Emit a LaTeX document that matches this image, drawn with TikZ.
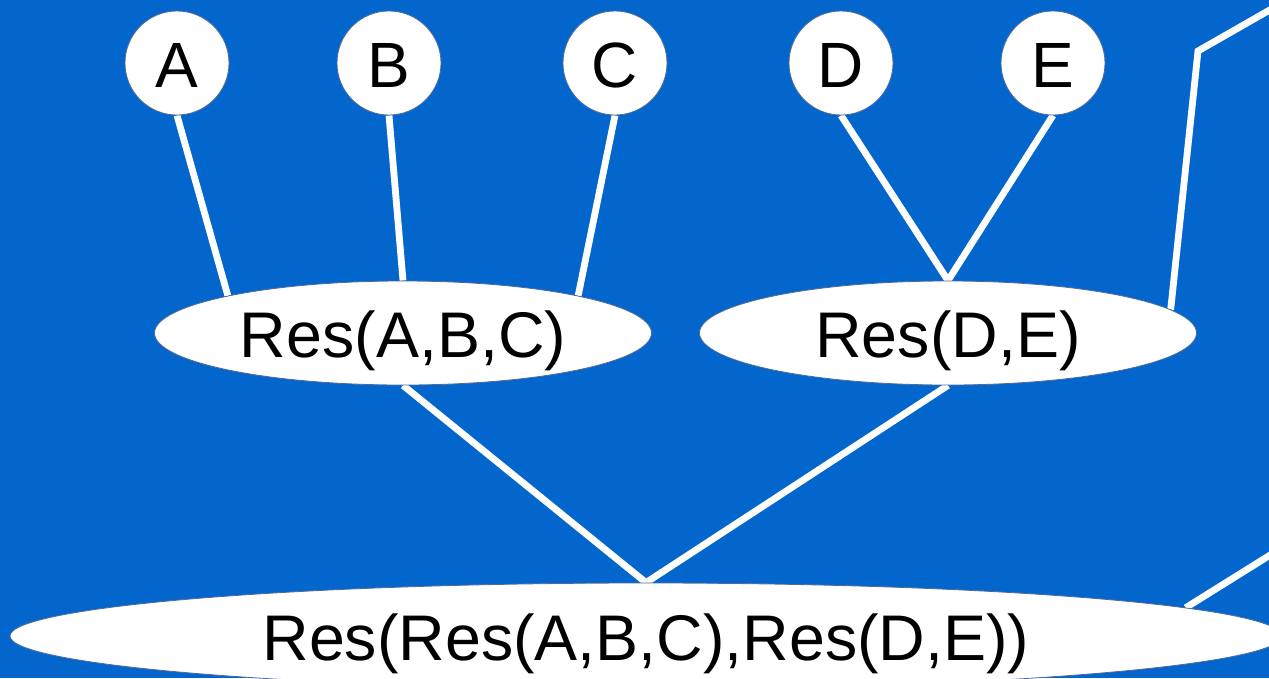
\documentclass[tikz,border=0pt]{standalone}
\usepackage{fontspec}
\setmainfont{Liberation Sans}
\usetikzlibrary{shapes.geometric}
\definecolor{bgblue}{RGB}{3,102,204}
\definecolor{rim}{RGB}{80,105,150}
\pgfdeclarelayer{back}
\pgfdeclarelayer{edges}
\pgfsetlayers{back,edges,main}
\begin{document}
\begin{tikzpicture}[x=1pt,y=-1pt,
  leaf/.style={circle,fill=white,draw=rim,line width=0.8pt,minimum size=104pt,inner sep=0pt,
    font=\fontsize{64}{64}\selectfont,text height=49pt,text depth=0pt},
  res/.style={ellipse,fill=white,draw=rim,line width=0.8pt,minimum width=497pt,minimum height=104pt,inner sep=0pt,
    font=\fontsize{64.5}{64}\selectfont,text height=48pt,text depth=0pt},
  link/.style={white,line width=6.8pt}]
\begin{pgfonlayer}{back}
\fill[bgblue] (0,0) rectangle (1269,678);
\end{pgfonlayer}
\useasboundingbox (0,0) rectangle (1269,678);
\node[leaf] (A) at (177,63) {A};
\node[leaf] (B) at (389,63) {B};
\node[leaf] (C) at (615,63) {C};
\node[leaf] (D) at (841,63) {D};
\node[leaf] (E) at (1053,63) {E};
\node[res] (r1) at (403,333) {Res(A,B,C)};
\node[res] (r2) at (948,333) {Res(D,E)};
\node[res,minimum width=1272pt,minimum height=106pt] (r3) at (646,636) {Res(Res(A,B,C),Res(D,E))};
\coordinate (k1) at (1198,51);
\coordinate (o1) at (1275,7);
\coordinate (o2) at (1275,552);
\begin{pgfonlayer}{edges}
\draw[link] (A.south) -- (r1.168);
\draw[link] (B.south) -- (r1.north);
\draw[link] (C.south) -- (r1.12);
\draw[link] (D.south) -- (r2.north);
\draw[link] (E.south) -- (r2.north);
\draw[link] (r2.6.6) -- (k1) -- (o1);
\draw[link] (r1.south) -- (r3.north);
\draw[link] (r2.south) -- (r3.north);
\draw[link] (r3.3.5) -- (o2);
\end{pgfonlayer}
\end{tikzpicture}
\end{document}
